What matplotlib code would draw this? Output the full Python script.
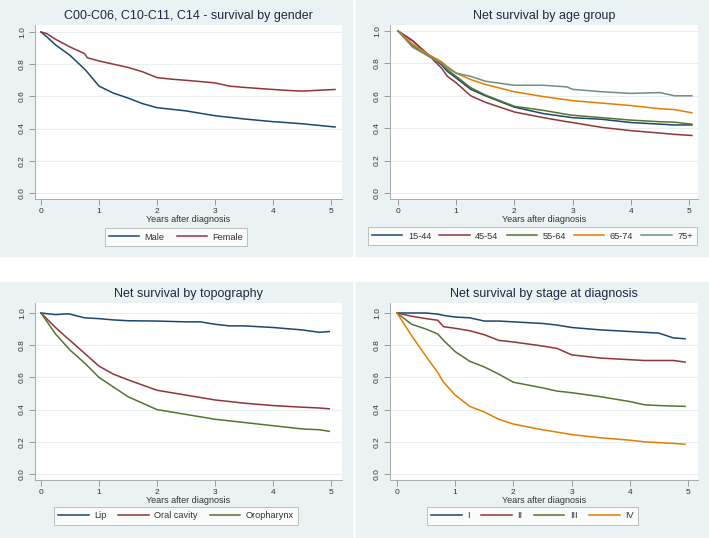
import matplotlib.pyplot as plt
from matplotlib.patches import Rectangle

plt.rcParams["font.family"] = ["Liberation Sans", "DejaVu Sans"]

# ---- data (years after diagnosis, net survival) ----
gender_x = [0, 0.1, 0.25, 0.5, 0.75, 0.8, 1.0, 1.25, 1.5, 1.75, 2.0, 2.25, 2.5, 3.0, 3.25, 3.5, 4.0, 4.25, 4.5, 5.07]
male = [1.0, 0.97, 0.92, 0.855, 0.77, 0.75, 0.664, 0.62, 0.59, 0.555, 0.53, 0.52, 0.51, 0.48, 0.47, 0.46, 0.443, 0.437, 0.43, 0.41]
female = [1.0, 0.99, 0.955, 0.907, 0.866, 0.84, 0.82, 0.80, 0.78, 0.753, 0.717, 0.707, 0.70, 0.684, 0.664, 0.656, 0.643, 0.637, 0.633, 0.643]

age_x = [0, 0.25, 0.5, 0.75, 0.85, 1.0, 1.25, 1.5, 2.0, 2.5, 2.9, 3.0, 3.5, 4.0, 4.5, 4.75, 5.05]
age_labels = ["15-44", "45-54", "55-64", "65-74", "75+"]
age_15_44 = [1.0, 0.94, 0.86, 0.79, 0.75, 0.71, 0.64, 0.60, 0.53, 0.49, 0.47, 0.465, 0.455, 0.435, 0.425, 0.42, 0.42]
age_45_54 = [1.0, 0.94, 0.86, 0.77, 0.72, 0.68, 0.60, 0.56, 0.50, 0.465, 0.44, 0.435, 0.405, 0.385, 0.37, 0.362, 0.355]
age_55_64 = [1.0, 0.91, 0.85, 0.80, 0.76, 0.72, 0.65, 0.605, 0.535, 0.51, 0.485, 0.48, 0.465, 0.45, 0.44, 0.437, 0.425]
age_65_74 = [1.0, 0.92, 0.86, 0.81, 0.78, 0.74, 0.70, 0.67, 0.625, 0.595, 0.575, 0.57, 0.555, 0.54, 0.52, 0.515, 0.495]
age_75p = [1.0, 0.90, 0.85, 0.80, 0.77, 0.74, 0.72, 0.69, 0.665, 0.665, 0.655, 0.64, 0.625, 0.615, 0.62, 0.60, 0.60]

topo_x = [0, 0.25, 0.45, 0.5, 0.75, 1.0, 1.25, 1.5, 2.0, 2.5, 2.75, 3.0, 3.25, 3.5, 4.0, 4.5, 4.8, 4.97]
lip = [1.0, 0.99, 0.995, 0.993, 0.97, 0.965, 0.957, 0.952, 0.95, 0.945, 0.945, 0.93, 0.92, 0.92, 0.91, 0.895, 0.88, 0.885]
oral = [1.0, 0.91, 0.845, 0.83, 0.75, 0.67, 0.62, 0.585, 0.52, 0.49, 0.475, 0.46, 0.45, 0.44, 0.425, 0.415, 0.41, 0.405]
oro = [1.0, 0.87, 0.79, 0.77, 0.69, 0.60, 0.54, 0.48, 0.40, 0.37, 0.355, 0.34, 0.33, 0.32, 0.30, 0.28, 0.275, 0.265]

stage_x = [0, 0.25, 0.5, 0.7, 0.8, 1.0, 1.25, 1.5, 1.75, 2.0, 2.5, 2.75, 3.0, 3.5, 4.0, 4.25, 4.5, 4.75, 4.95]
stage_i = [1.0, 1.0, 1.0, 0.993, 0.985, 0.975, 0.97, 0.95, 0.95, 0.945, 0.935, 0.925, 0.91, 0.895, 0.885, 0.88, 0.875, 0.845, 0.84]
stage_ii = [1.0, 0.98, 0.965, 0.955, 0.915, 0.905, 0.89, 0.865, 0.83, 0.82, 0.795, 0.78, 0.74, 0.72, 0.71, 0.705, 0.705, 0.705, 0.695]
stage_iii = [1.0, 0.93, 0.90, 0.87, 0.83, 0.76, 0.70, 0.665, 0.62, 0.57, 0.535, 0.515, 0.505, 0.48, 0.45, 0.43, 0.425, 0.422, 0.42]
stage_iv = [1.0, 0.86, 0.73, 0.63, 0.57, 0.49, 0.42, 0.385, 0.34, 0.31, 0.275, 0.26, 0.245, 0.225, 0.21, 0.2, 0.195, 0.19, 0.185]

NAVY, MAROON, GREEN, ORANGE, TEAL = "#1a476f", "#90353b", "#55752f", "#e37e00", "#6e8e84"
PANEL_BG = "#eaf2f3"

W, H = 709, 538
fig = plt.figure(figsize=(W / 100, H / 100), dpi=100)

# panel backgrounds (pixel boxes: left, top, right, bottom)
for (l, t, r, b) in [(0, 0, 352, 256), (356, 0, 709, 256), (0, 282, 352, 538), (356, 282, 709, 538)]:
    fig.patches.append(Rectangle((l / W, 1 - b / H), (r - l) / W, (b - t) / H,
                                 transform=fig.transFigure, color=PANEL_BG, zorder=-10))


def make_panel(box, x0px, x5px, y1px, y0px, title, series, labels, colors, panel, legend_y, colspace=1.3):
    l, t, r, b = box
    ax = fig.add_axes([l / W, 1 - b / H, (r - l) / W, (b - t) / H])
    ax.set_facecolor("white")
    # limits from pixel positions of the ticks
    xs = 5 / (x5px - x0px)
    ys = 1 / (y0px - y1px)
    ax.set_xlim(-(x0px - l) * xs, 5 + (r - x5px) * xs)
    ax.set_ylim(-(b - y0px) * ys, 1 + (y1px - t) * ys)
    for (x, y), lab, c in zip(series, labels, colors):
        ax.plot(x, y, color=c, lw=1.1, label=lab)
    ax.set_xticks(range(6))
    ax.set_yticks([0, 0.2, 0.4, 0.6, 0.8, 1.0])
    ax.set_yticklabels(["0.0", "0.2", "0.4", "0.6", "0.8", "1.0"], rotation=90, va="center")
    ax.tick_params(colors="#999999", labelcolor="#333333", labelsize=6, length=4, width=0.7, pad=2.5)
    ax.grid(axis="y", color="#e8eff1", lw=0.8)
    ax.set_axisbelow(True)
    for s in ("top", "right"):
        ax.spines[s].set_visible(False)
    for s in ("left", "bottom"):
        ax.spines[s].set_color("#aaaaaa")
        ax.spines[s].set_linewidth(0.7)
    ax.set_title(title, fontsize=9, color="#1e2a44", pad=4)
    ax.set_xlabel("Years after diagnosis", fontsize=6.5, color="#333333", labelpad=0)
    pl, pr = panel
    leg = ax.legend(loc="center", bbox_to_anchor=((pl + pr) / 2 / W, 1 - legend_y / H),
                    bbox_transform=fig.transFigure, ncol=len(labels), fontsize=6.6,
                    frameon=True, fancybox=False, handlelength=3.3, columnspacing=colspace,
                    borderpad=0.45, handletextpad=0.6, borderaxespad=0)
    leg.get_frame().set_edgecolor("#b0b0b0")
    leg.get_frame().set_linewidth(0.7)
    for txt in leg.get_texts():
        txt.set_color("#333333")
    return ax


make_panel((35, 25, 342, 199), 41, 331, 32, 193,
           "C00-C06, C10-C11, C14 - survival by gender",
           [(gender_x, male), (gender_x, female)], ["Male", "Female"], [NAVY, MAROON],
           (0, 352), 237)

make_panel((390, 25, 698, 199), 398, 689, 31, 193,
           "Net survival by age group",
           [(age_x, age_15_44), (age_x, age_45_54), (age_x, age_55_64), (age_x, age_65_74), (age_x, age_75p)],
           age_labels, [NAVY, MAROON, GREEN, ORANGE, TEAL],
           (356, 709), 236, colspace=0.9)

make_panel((35, 303, 342, 480), 41, 331, 313, 474,
           "Net survival by topography",
           [(topo_x, lip), (topo_x, oral), (topo_x, oro)], ["Lip", "Oral cavity", "Oropharynx"],
           [NAVY, MAROON, GREEN], (0, 352), 516)

make_panel((390, 303, 698, 480), 397, 688, 313, 474,
           "Net survival by stage at diagnosis",
           [(stage_x, stage_i), (stage_x, stage_ii), (stage_x, stage_iii), (stage_x, stage_iv)],
           ["I", "II", "III", "IV"], [NAVY, MAROON, GREEN, ORANGE], (356, 709), 516)

fig.savefig("out.png", dpi=100, facecolor="white")
